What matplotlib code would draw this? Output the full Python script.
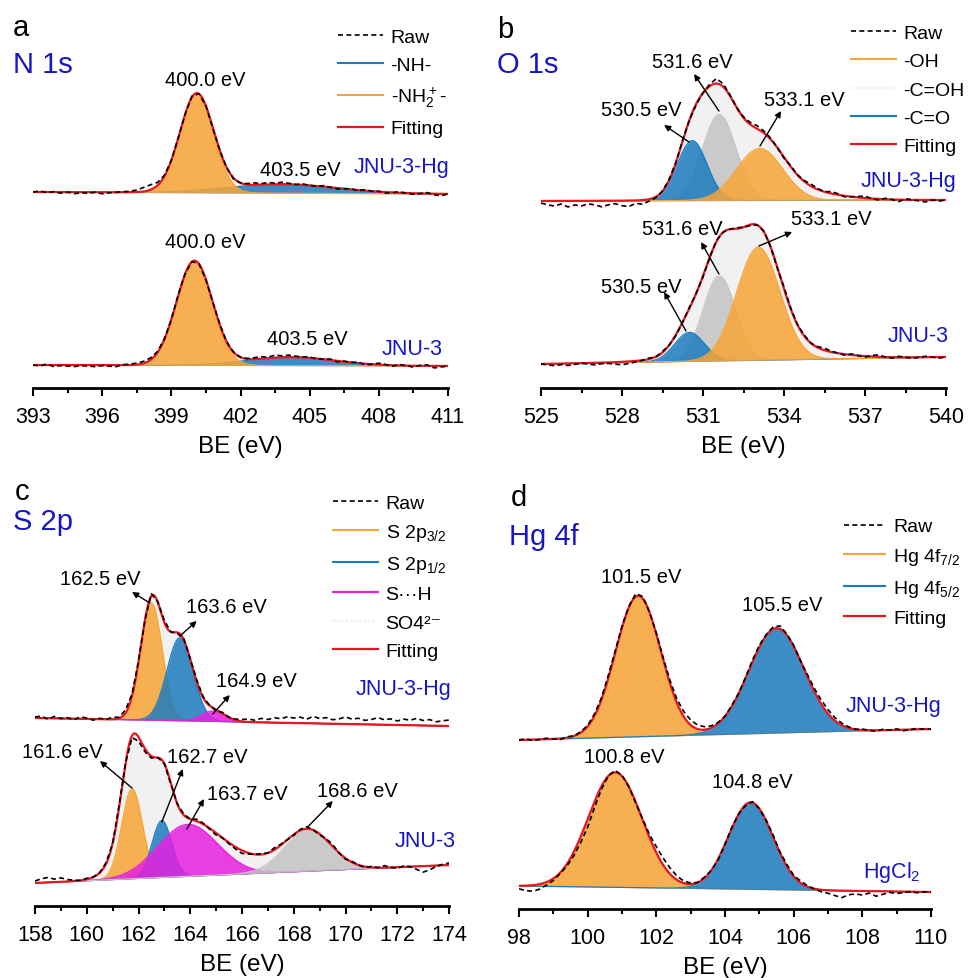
import numpy as np
import matplotlib.pyplot as plt
from matplotlib.lines import Line2D
from matplotlib.ticker import MultipleLocator

plt.rcParams['font.family'] = ['Liberation Sans', 'DejaVu Sans']
plt.rcParams['mathtext.default'] = 'regular'

ORANGE = '#f9a535'
BLUE = '#1c7cbf'
GRAY = '#c4c4c4'
MAGENTA = '#e620e0'
RED = '#e8161e'
TXT_BLUE = '#1616c8'
ENVELOPE = '#f1f1f1'

# peaks are (centre eV, height a.u., sigma eV); baselines are (low BE end, high BE end)
# a: N 1s
n1s_xlim = (393, 411)
n1s_hg_base = [196, 194]
n1s_hg_peaks = [(403.8, 9, 2.4), (400.1, 97, 0.73)]
n1s_hg_raw = [0, 1, -0.5, 0.5, -1, 0, -1.5, -0.5, -1, 0,
              -1.5, -0.5, 0, 0.5, 1, 2, 4, 5, 3, 1,
              0, 0, 0, 1, 0, 0, -1, 0, 0, -1,
              0, 1, 2, 1, 2, 1, 2, 1, 0, 1,
              0, -0.5, 1, 0, -1, 0, 0.5, -0.5, 1, 0,
              0.5, -1, 0, 1, 0, -1, 0, 1, -1, -2,
              0]
n1s_base = [23, 22]
n1s_peaks = [(404.2, 8.5, 1.9), (400.0, 104, 0.78)]
n1s_raw = [0, -1, 1, -1.5, -0.5, -1, -1.5, -0.5, -1, -1.5,
           -0.5, -1, -1.5, 0.5, 1, 1.5, 2, 2, 1, 0.5,
           0, 1, 0, 0, 0, -0.5, 0, 1, 0, 0,
           0, 0.5, 1.5, 2, 1, 2.5, 1.5, 2, 1, 0.5,
           1, -0.5, 0, 1, -1, 0.5, 0, 1, -1, 0,
           1.5, 0.5, -1, 1, 0, -1.5, 0.5, 1, -2, -1,
           0]
n1s_colors = [BLUE, ORANGE]

# b: O 1s  (order: -C=OH, -C=O, -OH)
o1s_xlim = (525, 540)
o1s_hg_base = [187, 188]
o1s_hg_peaks = [(531.6, 86, 0.62), (530.6, 60, 0.55), (533.1, 52, 0.85)]
o1s_hg_hidden = [(533.5, 14, 1.8)]
o1s_hg_raw = [-2, -4, -5, -3, -6, -4, -5, -3, -4, -6,
              -4, -3, -5, -6, -3, -4, -2, -1, 0, 1,
              0, 1, 0, -1, 0, 2, 5, 3, 1, 0,
              1, 2, 3, 2, 1, 0, -1, 1, 0, 1,
              2, 1, 0, 2, 1, -1, 0, 1, 2, 0,
              -1, 1, 0, -2, 1, 0, -1, -2, 0, -1,
              0]
o1s_base = [24, 31]
o1s_peaks = [(531.6, 85, 0.6), (530.5, 29, 0.55), (533.05, 113, 0.8)]
o1s_hidden = [(533.0, 17, 2.0)]
o1s_raw = [0, -1, -2, -1, -2, -1, 0, -1, -2, -1,
           -1, -2, -3, -2, -1, 0, 1, 0, 1, 0,
           -1, 0, 1, 0, -1, 0, 1, 0, 0, 1,
           0, -1, 0, 1, 0, -1, 2, 1, 0, 1,
           0, 1, 2, 1, 0, -1, 1, 0, -1, 1,
           2, 0, -1, 1, 0, -1, 0, 1, 0, -1,
           0]
o1s_colors = [GRAY, BLUE, ORANGE]

# c: S 2p  (order: 2p3/2, 2p1/2, S...H, SO4)
s2p_xlim = (158, 174)
s2p_hg_base = [188, 180]
s2p_hg_peaks = [(162.5, 117, 0.42), (163.6, 83, 0.5), (164.9, 10.5, 0.45)]
s2p_hg_raw = [1, 2, -1, 2, 0, 1, -1, 2, 1, -1,
              1, 0, 2, 1, 3, 2, 1, 0, 2, 1,
              2, 0, -1, 1, 0, 2, 1, 0, -1, 1,
              0, 1, 2, 3, 2, 4, 3, 5, 4, 6,
              5, 6, 4, 7, 5, 6, 4, 5, 7, 5,
              6, 4, 5, 7, 5, 6, 4, 6, 5, 7,
              5, 6, 4, 5, 6]
s2p_base = [23, 41]
s2p_peaks = [(161.75, 90, 0.4), (162.9, 57, 0.38), (163.9, 52, 1.15), (168.55, 41, 0.9)]
s2p_hidden = [(162.0, 45, 0.75), (162.35, 15, 0.25), (166.0, 13, 1.2)]
s2p_raw = [2, 4, 5, 3, 4, 2, 1, 0, 1, 0,
           0, 1, 0, 2, 0, -2, -4, -3, -2, 0,
           0, -1, 0, 1, 0, 2, 1, -1, -2, 0,
           -1, -2, -3, -1, 0, 1, 0, 2, 1, 0,
           -1, 1, 2, 0, -1, 1, 2, 0, -1, 1,
           0, -1, 1, 0, 2, 0, -1, 1, 0, -3,
           -6, -4, -1, 1, 2]
s2p_colors = [ORANGE, BLUE, MAGENTA, GRAY]

# d: Hg 4f  (order: 4f7/2, 4f5/2)
hg4f_xlim = (98, 110)
hg4f_hg_base = [169, 180]
hg4f_hg_peaks = [(101.47, 141, 0.66), (105.5, 105, 0.8)]
hg4f_hg_raw = [0, 1, -1, 0, 1, 0, -1, 1, 0, 1,
               1, 2, 2, 3, 2, 2, 1, 3, 2, 0,
               1, 2, 3, 4, 5, 5, 4, 3, 2, 1,
               0, 1, 0, 1, 2, 2, 1, 2, 3, 1,
               1, 0, 2, 3, 4, 4, 3, 2, 1, 0,
               1, 0, -1, 1, 0, 1, -1, 0, 1, 0,
               0]
hg4f_base = [23, 17]
hg4f_peaks = [(100.8, 115, 0.78), (104.75, 87, 0.65)]
hg4f_raw = [-3, -5, -6, -5, -3, -2, -1, -2, -4, -6,
            -8, -6, -3, 0, 2, 1, 0, -1, 1, 3,
            6, 7, 6, 4, 2, 1, 0, 1, 0, -1,
            0, 1, 0, -1, 1, 0, 1, 2, 1, 2,
            1, 2, 1, 0, -2, -3, -5, -7, -4, -3,
            -4, -2, -5, -3, -1, -2, -1, 0, -1, 0,
            0]
hg4f_colors = [ORANGE, BLUE]

ANN = 14.5      # peak position labels
SAMPLE = 15.5   # sample names
BIG = 21        # panel letters / core level


def gauss(x, c, h, s):
    return h * np.exp(-(x - c) ** 2 / (2 * s ** 2))


def draw_trace(ax, xlim, base, peaks, colors, raw_off, hidden=()):
    x = np.linspace(xlim[0], xlim[1], 1200)
    b = base[0] + (base[1] - base[0]) * (x - xlim[0]) / (xlim[1] - xlim[0])
    comps = [gauss(x, *p) for p in peaks]
    fit = b + sum(comps) + sum(gauss(x, *p) for p in hidden)
    ax.fill_between(x, b, fit, color=ENVELOPE, lw=0, zorder=1)
    for g, col in zip(comps, colors):
        ax.fill_between(x, b, b + g, color=col, alpha=0.85, lw=0, zorder=2)
        ax.plot(x, b + g, color=col, lw=0.9, zorder=2)
    xr = np.linspace(xlim[0], xlim[1], len(raw_off))
    br = base[0] + (base[1] - base[0]) * (xr - xlim[0]) / (xlim[1] - xlim[0])
    yr = br + sum(gauss(xr, *p) for p in list(peaks) + list(hidden)) + np.array(raw_off)
    ax.plot(x, fit, color=RED, lw=1.6, zorder=3)
    ax.plot(xr, yr, color='k', lw=1.2, ls=(0, (3, 2)), zorder=4)


def style(ax, xlim, ylim, major, minor):
    ax.set_xlim(xlim)
    ax.set_ylim(ylim)
    for s in ['left', 'right', 'top']:
        ax.spines[s].set_visible(False)
    ax.spines['bottom'].set_linewidth(2)
    ax.set_yticks([])
    ax.xaxis.set_major_locator(MultipleLocator(major))
    ax.xaxis.set_minor_locator(MultipleLocator(minor))
    ax.tick_params(axis='x', which='major', direction='out', length=6, width=1.5,
                   labelsize=15.5, pad=7)
    ax.tick_params(axis='x', which='minor', direction='out', length=3.5, width=1.5)
    ax.set_xlabel('BE (eV)', fontsize=17.5, labelpad=6)
    ax.patch.set_alpha(0)


def arrow(ax, tail, head):
    ax.annotate('', xy=head, xytext=tail,
                arrowprops=dict(arrowstyle='-|>', color='k', lw=1, mutation_scale=9,
                                shrinkA=0, shrinkB=0), zorder=6)


def legend(ax, handles, labels, anchor, hl=2.3):
    ax.legend(handles, labels, loc='upper left', bbox_to_anchor=anchor, frameon=False,
              fontsize=14, handlelength=hl, handletextpad=0.4, labelspacing=0.55,
              borderpad=0, borderaxespad=0)


raw_h = Line2D([], [], color='k', lw=1.2, ls=(0, (3, 2)))
fit_h = Line2D([], [], color=RED, lw=1.6)
light_h = Line2D([], [], color='#e4e4e4', lw=1.2, ls=':')

fig = plt.figure(figsize=(9.68, 9.79), dpi=100)
W, H = 968, 979
ax_a = fig.add_axes([33 / W, 1 - 389 / H, 415 / W, 389 / H])
ax_b = fig.add_axes([541 / W, 1 - 389 / H, 405 / W, 389 / H])
ax_c = fig.add_axes([35 / W, 1 - 907 / H, 414 / W, 427 / H])
ax_d = fig.add_axes([519 / W, 1 - 910 / H, 412 / W, 430 / H])

# ---- a
ax = ax_a
draw_trace(ax, n1s_xlim, n1s_hg_base, n1s_hg_peaks, n1s_colors, n1s_hg_raw)
draw_trace(ax, n1s_xlim, n1s_base, n1s_peaks, n1s_colors, n1s_raw)
style(ax, n1s_xlim, (0, 389), 3, 1.5)
ax.text(392.13, 361, 'a', fontsize=BIG, va='center')
ax.text(392.13, 324, 'N 1s', fontsize=BIG, va='center', color=TXT_BLUE)
ax.text(400.46, 309, '400.0 eV', fontsize=ANN, ha='center', va='center')
ax.text(404.58, 219, '403.5 eV', fontsize=ANN, ha='center', va='center')
ax.text(411.08, 222, 'JNU-3-Hg', fontsize=SAMPLE, ha='right', va='center', color=TXT_BLUE)
ax.text(400.46, 146, '400.0 eV', fontsize=ANN, ha='center', va='center')
ax.text(404.88, 49, '403.5 eV', fontsize=ANN, ha='center', va='center')
ax.text(410.78, 39, 'JNU-3', fontsize=SAMPLE, ha='right', va='center', color=TXT_BLUE)
legend(ax, [raw_h, Line2D([], [], color=BLUE, lw=1.5), Line2D([], [], color=ORANGE, lw=1.5), fit_h],
       ['Raw', '-NH-', '-NH$_2^+$-', 'Fitting'], (0.735, 0.925))

# ---- b
ax = ax_b
draw_trace(ax, o1s_xlim, o1s_hg_base, o1s_hg_peaks, o1s_colors, o1s_hg_raw, o1s_hg_hidden)
draw_trace(ax, o1s_xlim, o1s_base, o1s_peaks, o1s_colors, o1s_raw, o1s_hidden)
style(ax, o1s_xlim, (0, 389), 3, 1.5)
ax.text(523.37, 359, 'b', fontsize=BIG, va='center')
ax.text(523.37, 324, 'O 1s', fontsize=BIG, va='center', color=TXT_BLUE)
ax.text(530.59, 327, '531.6 eV', fontsize=ANN, ha='center', va='center')
arrow(ax, (531.59, 277), (530.67, 314))
ax.text(528.70, 279, '530.5 eV', fontsize=ANN, ha='center', va='center')
arrow(ax, (530.48, 246), (529.56, 263))
ax.text(534.74, 289, '533.1 eV', fontsize=ANN, ha='center', va='center')
arrow(ax, (533.11, 242), (533.89, 277))
ax.text(540.37, 207, 'JNU-3-Hg', fontsize=SAMPLE, ha='right', va='center', color=TXT_BLUE)
ax.text(530.22, 159, '531.6 eV', fontsize=ANN, ha='center', va='center')
arrow(ax, (531.59, 114), (530.93, 146))
ax.text(535.74, 169, '533.1 eV', fontsize=ANN, ha='center', va='center')
arrow(ax, (533.07, 142), (534.30, 156))
ax.text(528.70, 101, '530.5 eV', fontsize=ANN, ha='center', va='center')
arrow(ax, (530.37, 57), (529.56, 96))
ax.text(540.11, 52, 'JNU-3', fontsize=SAMPLE, ha='right', va='center', color=TXT_BLUE)
legend(ax, [raw_h, Line2D([], [], color=ORANGE, lw=1.5), light_h,
            Line2D([], [], color=BLUE, lw=1.5), fit_h],
       ['Raw', '-OH', '-C=OH', '-C=O', 'Fitting'], (0.765, 0.935))

# ---- c
ax = ax_c
draw_trace(ax, s2p_xlim, s2p_hg_base, s2p_hg_peaks, s2p_colors, s2p_hg_raw)
draw_trace(ax, s2p_xlim, s2p_base, s2p_peaks, s2p_colors, s2p_raw, s2p_hidden)
style(ax, s2p_xlim, (0, 427), 2, 1)
ax.text(157.23, 415, 'c', fontsize=BIG, va='center')
ax.text(157.15, 385, 'S 2p', fontsize=BIG, va='center', color=TXT_BLUE)
ax.text(160.51, 327, '162.5 eV', fontsize=ANN, ha='center', va='center')
arrow(ax, (162.44, 303), (161.75, 314))
ax.text(165.41, 299, '163.6 eV', fontsize=ANN, ha='center', va='center')
arrow(ax, (163.6, 270), (164.25, 285))
ax.text(166.57, 225, '164.9 eV', fontsize=ANN, ha='center', va='center')
arrow(ax, (164.87, 192), (165.53, 211))
ax.text(174.1, 217, 'JNU-3-Hg', fontsize=SAMPLE, ha='right', va='center', color=TXT_BLUE)
ax.text(159.04, 154, '161.6 eV', fontsize=ANN, ha='center', va='center')
arrow(ax, (161.75, 118), (160.51, 145))
ax.text(164.64, 149, '162.7 eV', fontsize=ANN, ha='center', va='center')
arrow(ax, (162.9, 84), (163.71, 137))
ax.text(166.22, 112, '163.7 eV', fontsize=ANN, ha='center', va='center')
arrow(ax, (163.87, 77), (164.53, 107))
ax.text(170.47, 115, '168.6 eV', fontsize=ANN, ha='center', va='center')
arrow(ax, (168.54, 79), (169.51, 105))
ax.text(174.25, 65, 'JNU-3', fontsize=SAMPLE, ha='right', va='center', color=TXT_BLUE)
legend(ax, [raw_h, Line2D([], [], color=ORANGE, lw=1.5), Line2D([], [], color=BLUE, lw=1.5),
            Line2D([], [], color=MAGENTA, lw=1.5), light_h, fit_h],
       ['Raw', 'S 2p$_{3/2}$', 'S 2p$_{1/2}$', 'S\u00b7\u00b7\u00b7H', 'SO4\u00b2\u207b', 'Fitting'],
       (0.72, 0.965))

# ---- d
ax = ax_d
draw_trace(ax, hg4f_xlim, hg4f_hg_base, hg4f_hg_peaks, hg4f_colors, hg4f_hg_raw)
draw_trace(ax, hg4f_xlim, hg4f_base, hg4f_peaks, hg4f_colors, hg4f_raw)
style(ax, hg4f_xlim, (0, 430), 2, 1)
ax.text(97.77, 412, 'd', fontsize=BIG, va='center')
ax.text(97.71, 373, 'Hg 4f', fontsize=BIG, va='center', color=TXT_BLUE)
ax.text(101.55, 332, '101.5 eV', fontsize=ANN, ha='center', va='center')
ax.text(105.66, 304, '105.5 eV', fontsize=ANN, ha='center', va='center')
ax.text(110.29, 203, 'JNU-3-Hg', fontsize=SAMPLE, ha='right', va='center', color=TXT_BLUE)
ax.text(101.06, 152, '100.8 eV', fontsize=ANN, ha='center', va='center')
ax.text(104.79, 127, '104.8 eV', fontsize=ANN, ha='center', va='center')
ax.text(109.71, 37, 'HgCl$_2$', fontsize=SAMPLE, ha='right', va='center', color=TXT_BLUE)
legend(ax, [raw_h, Line2D([], [], color=ORANGE, lw=1.5), Line2D([], [], color=BLUE, lw=1.5), fit_h],
       ['Raw', 'Hg 4f$_{7/2}$', 'Hg 4f$_{5/2}$', 'Fitting'], (0.79, 0.91), hl=2.1)

fig.savefig('out.png', dpi=100)
